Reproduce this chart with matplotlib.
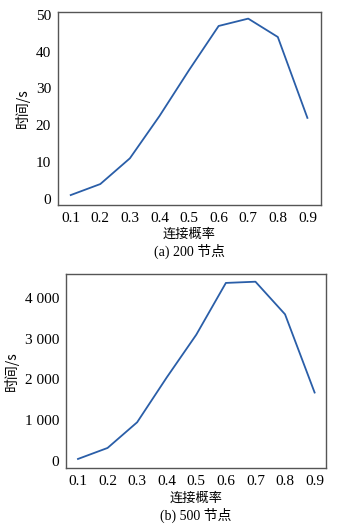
import matplotlib
matplotlib.use('Agg')
import matplotlib.pyplot as plt
from matplotlib.ticker import FuncFormatter

plt.rcParams['font.family'] = ['Liberation Serif', 'Noto Sans CJK SC']

# connection probability
prob = [0.1, 0.2, 0.3, 0.4, 0.5, 0.6, 0.7, 0.8, 0.9]
# run time (s), 200 nodes
time_200 = [1, 4, 11, 22.5, 35, 47, 49, 44, 22]
# run time (s), 500 nodes
time_500 = [50, 320, 950, 2050, 3100, 4370, 4400, 3600, 1680]

line_color = '#2a5ea8'
cjk = ['Noto Sans CJK SC']


def thousands(v, pos):
    return '{:,.0f}'.format(v).replace(',', ' ')


def style_axes(ax):
    for s in ax.spines.values():
        s.set_color('#555555')
        s.set_linewidth(1.0)
    ax.tick_params(length=0, labelsize=11, pad=5)
    ax.set_xticks(prob)
    ax.set_xticklabels([str(p) for p in prob])


fig = plt.figure(figsize=(3.38, 5.25), dpi=100)
H = 525.0
W = 338.0

# (a) 200 nodes
ax1 = fig.add_axes([58 / W, 1 - 205 / H, 263 / W, 193 / H])
ax1.plot(prob, time_200, color=line_color, lw=1.3)
ax1.set_xlim(0.057, 0.946)
ax1.set_ylim(-1.7, 50.8)
ax1.set_yticks([0, 10, 20, 30, 40, 50])
style_axes(ax1)
ax1.set_ylabel('时间/s', fontsize=10, labelpad=4, family=cjk)
fig.text(189 / W, 1 - 234 / H, '连接概率', ha='center', va='center', fontsize=9.5, family=cjk)
fig.text(189 / W, 1 - 251 / H, '(a) 200 节点', ha='center', va='center', fontsize=10)

# (b) 500 nodes
ax2 = fig.add_axes([66 / W, 1 - 468 / H, 260 / W, 194 / H])
ax2.plot(prob, time_500, color=line_color, lw=1.3)
ax2.set_xlim(0.0595, 0.9385)
ax2.set_ylim(-172, 4589)
ax2.set_yticks([0, 1000, 2000, 3000, 4000])
ax2.yaxis.set_major_formatter(FuncFormatter(thousands))
style_axes(ax2)
ax2.set_ylabel('时间/s', fontsize=10, labelpad=4, family=cjk)
fig.text(196 / W, 1 - 498 / H, '连接概率', ha='center', va='center', fontsize=9.5, family=cjk)
fig.text(196 / W, 1 - 515 / H, '(b) 500 节点', ha='center', va='center', fontsize=10)

fig.savefig('out.png', dpi=100, facecolor='white')
